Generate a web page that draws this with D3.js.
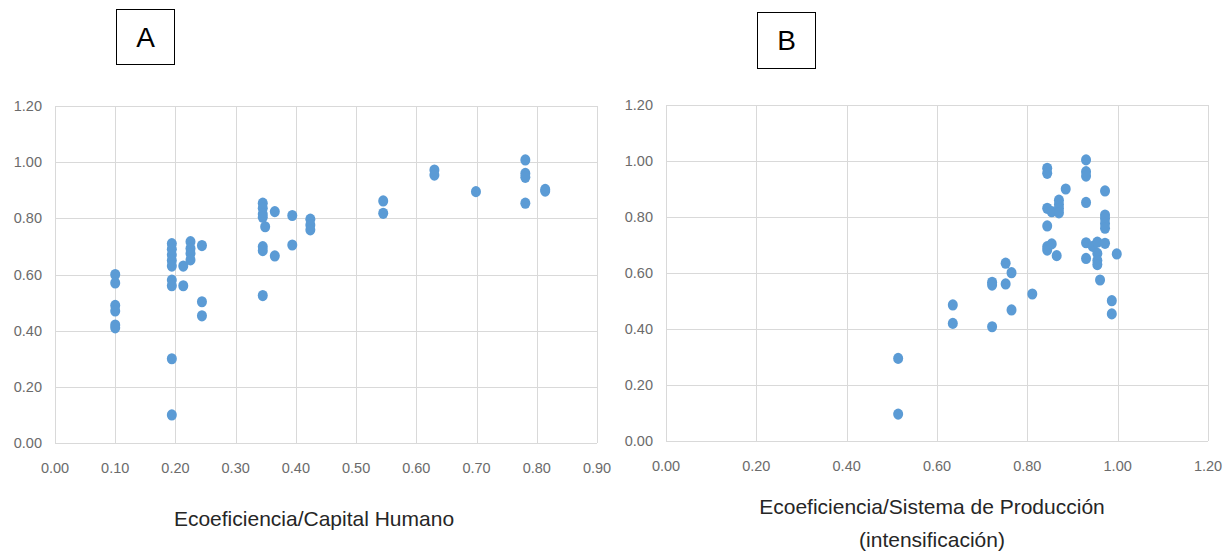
<!DOCTYPE html>
<html><head><meta charset="utf-8">
<script src="https://cdn.jsdelivr.net/npm/d3@7"></script>
<style>
html,body{margin:0;padding:0;background:#fff;}
svg{display:block;}
</style></head>
<body>
<svg id="chart" width="1232" height="554"></svg>
<script>
// Panel A: Ecoeficiencia vs Capital Humano
const aX = [0.10,0.10,0.10,0.10,0.10,0.10,
  0.194,0.194,0.194,0.194,0.194,0.194,0.194,0.194,0.194,
  0.213,0.213,
  0.225,0.225,0.225,0.225,
  0.244,0.244,0.244,
  0.345,0.345,0.345,0.345,0.345,0.345,0.345,
  0.349,0.365,0.365,0.394,0.394,
  0.424,0.424,0.424,
  0.545,0.545,0.630,0.630,0.699,
  0.781,0.781,0.781,0.781,0.814,0.814];
const aY = [0.60,0.57,0.49,0.47,0.42,0.41,
  0.71,0.69,0.67,0.65,0.63,0.58,0.56,0.30,0.10,
  0.63,0.56,
  0.717,0.693,0.675,0.652,
  0.703,0.503,0.453,
  0.854,0.836,0.815,0.804,0.699,0.685,0.525,
  0.770,0.824,0.666,0.81,0.705,
  0.797,0.776,0.759,
  0.862,0.818,0.972,0.954,0.895,
  1.008,0.960,0.946,0.854,0.903,0.897];

// Panel B: Ecoeficiencia vs Sistema de Producción (intensificación)
const bX = [0.514,0.514,
  0.635,0.635,
  0.722,0.722,0.722,
  0.752,0.752,0.765,0.765,0.811,
  0.844,0.844,0.844,0.844,0.844,0.844,
  0.854,0.854,0.865,
  0.870,0.870,0.870,0.870,0.885,
  0.930,0.930,0.930,0.930,0.930,0.930,
  0.945,0.955,0.955,0.955,0.955,0.961,
  0.972,0.972,0.972,0.972,0.972,0.972,
  0.987,0.987,0.998];
const bY = [0.295,0.096,
  0.486,0.42,
  0.567,0.557,0.408,
  0.635,0.561,0.601,0.468,0.525,
  0.974,0.956,0.831,0.768,0.694,0.682,
  0.819,0.704,0.662,
  0.86,0.845,0.83,0.815,0.90,
  1.004,0.962,0.946,0.852,0.708,0.652,
  0.695,0.71,0.67,0.645,0.63,0.575,
  0.893,0.807,0.795,0.777,0.76,0.706,
  0.501,0.454,0.668];

const yTicks = [0,0.2,0.4,0.6,0.8,1.0,1.2];
const aXTicks = [0,0.1,0.2,0.3,0.4,0.5,0.6,0.7,0.8,0.9];
const bXTicks = [0,0.2,0.4,0.6,0.8,1.0,1.2];

const aTitle = ["Ecoeficiencia/Capital Humano"];
const bTitle = ["Ecoeficiencia/Sistema de Producción","(intensificación)"];

const svg = d3.select("#chart");
const font = "'Liberation Sans',Arial,sans-serif";

function panel(cfg){
  const x = d3.scaleLinear().domain(cfg.xDomain).range([cfg.left, cfg.right]);
  const y = d3.scaleLinear().domain([0,1.2]).range([cfg.bottom, cfg.top]);
  const g = svg.append("g");
  // gridlines
  g.selectAll("line.h").data(yTicks).enter().append("line")
    .attr("x1",cfg.left).attr("x2",cfg.right)
    .attr("y1",d=>Math.round(y(d))+0.5).attr("y2",d=>Math.round(y(d))+0.5)
    .attr("stroke","#d9d9d9").attr("stroke-width",1);
  g.selectAll("line.v").data(cfg.xTicks).enter().append("line")
    .attr("y1",cfg.top).attr("y2",cfg.bottom)
    .attr("x1",d=>Math.round(x(d))+0.5).attr("x2",d=>Math.round(x(d))+0.5)
    .attr("stroke","#d9d9d9").attr("stroke-width",1);
  // tick labels
  g.selectAll("text.yt").data(yTicks).enter().append("text")
    .attr("x",cfg.left-13).attr("y",d=>y(d)).attr("dy","0.35em")
    .attr("text-anchor","end").attr("font-family",font).attr("font-size",14.5)
    .attr("fill","#6b6b6b").text(d=>d.toFixed(2));
  g.selectAll("text.xt").data(cfg.xTicks).enter().append("text")
    .attr("x",d=>x(d)).attr("y",cfg.bottom+25).attr("dy","0.35em")
    .attr("text-anchor","middle").attr("font-family",font).attr("font-size",14.5)
    .attr("fill","#6b6b6b").text(d=>d.toFixed(2));
  // points
  const pts = cfg.xs.map((v,i)=>[v,cfg.ys[i]]);
  g.selectAll("ellipse").data(pts).enter().append("ellipse")
    .attr("cx",d=>x(d[0])).attr("cy",d=>y(d[1]))
    .attr("rx",5).attr("ry",5.6).attr("fill","#5b9bd5");
  // axis title
  cfg.title.forEach((t,i)=>{
    g.append("text").attr("x",cfg.titleX).attr("y",cfg.titleY+i*33)
      .attr("text-anchor","middle").attr("dy","0.35em")
      .attr("font-family",font).attr("font-size",21).attr("fill","#262626")
      .text(t);
  });
  // label box
  g.append("rect").attr("x",cfg.box[0]+0.5).attr("y",cfg.box[1]+0.5)
    .attr("width",cfg.box[2]).attr("height",cfg.box[3])
    .attr("fill","none").attr("stroke","#000").attr("stroke-width",1);
  g.append("text").attr("x",cfg.box[0]+cfg.box[2]/2+0.5).attr("y",cfg.box[1]+cfg.box[3]/2)
    .attr("dy","0.36em").attr("text-anchor","middle")
    .attr("font-family",font).attr("font-size",28).attr("fill","#000")
    .text(cfg.letter);
}

panel({xDomain:[0,0.9], left:55, right:597, top:106, bottom:443,
  xTicks:aXTicks, xs:aX, ys:aY, title:aTitle, titleX:314, titleY:519,
  box:[116,9,58,55], letter:"A"});
panel({xDomain:[0,1.2], left:666, right:1208, top:105, bottom:441,
  xTicks:bXTicks, xs:bX, ys:bY, title:bTitle, titleX:932, titleY:507,
  box:[757,12,58,56], letter:"B"});
</script>
</body></html>
